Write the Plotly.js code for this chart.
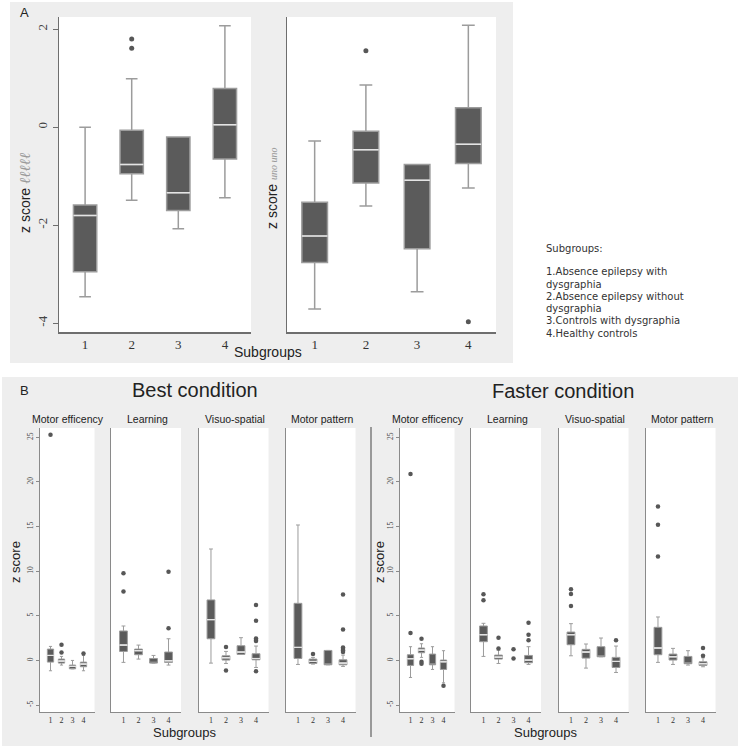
<!DOCTYPE html>
<html><head><meta charset="utf-8">
<script src="https://cdn.plot.ly/plotly-3.0.1.min.js"></script>
<style>html,body{margin:0;padding:0;background:#fff}#chart{width:738px;height:746px}</style>
</head><body><div id="chart"></div>
<script>
// ---------- DATA ----------
const groups = [1, 2, 3, 4];
const groupLabels = ['1', '2', '3', '4'];
const aTickVals = [-4, -2, 0, 2];
const aTickText = ['-4', '-2', '0', '2'];
const bTickVals = [-5, 0, 5, 10, 15, 20, 25];
const bTickText = ['-5', '0', '5', '10', '15', '20', '25'];
const conditions = ['Best condition', 'Faster condition'];
const domains = ['Motor efficency', 'Learning', 'Visuo-spatial', 'Motor pattern'];
const legendLines = ['Subgroups:', '1.Absence epilepsy with', 'dysgraphia', '2.Absence epilepsy without', 'dysgraphia', '3.Controls with dysgraphia', '4.Healthy controls'];

// Panel A, left
const aL_lo  = [-3.46, -1.49, -2.07, -1.44];
const aL_q1  = [-2.95, -0.95, -1.70, -0.65];
const aL_med = [-1.80, -0.76, -1.34, 0.05];
const aL_q3  = [-1.59, -0.06, -0.20, 0.79];
const aL_hi  = [0.00, 0.99, -0.20, 2.07];
const aL_outX = [2, 2];
const aL_outY = [1.80, 1.61];
// Panel A, right
const aR_lo  = [-3.71, -1.61, -3.36, -1.24];
const aR_q1  = [-2.76, -1.14, -2.48, -0.74];
const aR_med = [-2.22, -0.46, -1.08, -0.35];
const aR_q3  = [-1.53, -0.08, -0.76, 0.40];
const aR_hi  = [-0.28, 0.86, -0.76, 2.08];
const aR_outX = [2, 4];
const aR_outY = [1.56, -3.97];

// Panel B, best condition: motor efficiency
const bME_lo  = [-1.16, -0.52, -0.94, -1.16];
const bME_q1  = [-0.19, -0.30, -0.94, -0.71];
const bME_med = [0.56, -0.07, -0.67, -0.41];
const bME_q3  = [1.27, 0.15, -0.52, -0.19];
const bME_hi  = [1.57, 0.45, 0.00, 0.55];
const bME_outX = [1, 2, 2, 4];
const bME_outY = [25.3, 1.76, 0.90, 0.79];
// best: learning
const bLE_lo  = [-0.22, 0.15, -0.30, -0.52];
const bLE_q1  = [1.01, 0.64, -0.30, -0.22];
const bLE_med = [1.72, 1.09, -0.30, -0.04];
const bLE_q3  = [3.30, 1.27, 0.22, 0.94];
const bLE_hi  = [3.86, 1.72, 0.56, 2.43];
const bLE_outX = [1, 1, 4, 4];
const bLE_outY = [9.78, 7.72, 9.93, 3.60];
// best: visuo-spatial
const bVS_lo  = [-0.30, -0.34, 0.67, -0.79];
const bVS_q1  = [2.43, 0.04, 0.67, 0.07];
const bVS_med = [4.57, 0.30, 0.94, 0.22];
const bVS_q3  = [6.78, 0.52, 1.65, 0.75];
const bVS_hi  = [12.49, 1.01, 2.55, 1.61];
const bVS_outX = [2, 2, 4, 4, 4, 4, 4, 4];
const bVS_outY = [1.50, -1.12, 6.22, 4.46, 2.47, 2.30, 2.17, -1.20];
// best: motor pattern
const bMP_lo  = [-0.45, -0.41, -0.49, -0.67];
const bMP_q1  = [0.22, -0.34, -0.49, -0.49];
const bMP_med = [1.46, -0.11, -0.49, -0.30];
const bMP_q3  = [6.40, 0.15, 1.12, 0.07];
const bMP_hi  = [15.18, 0.34, 1.12, 0.60];
const bMP_outX = [2, 4, 4, 4, 4, 4, 4];
const bMP_outY = [0.71, 7.38, 3.48, 1.46, 1.27, 1.12, 0.94];

// Panel B, faster condition: motor efficiency
const fME_lo  = [-1.91, 0.34, -1.01, -2.51];
const fME_q1  = [-0.56, 0.86, -0.49, -1.01];
const fME_med = [0.19, 1.16, -0.49, -0.15];
const fME_q3  = [0.64, 1.39, 0.71, 0.04];
const fME_hi  = [1.54, 1.87, 1.54, 1.09];
const fME_outX = [1, 1, 2, 2, 2, 4];
const fME_outY = [20.9, 3.07, 2.43, -0.15, -0.37, -2.85];
// faster: learning (group 3 shown as points only)
const fLE_lo  = [0.45, -0.34, null, -0.45];
const fLE_q1  = [2.10, 0.15, null, -0.26];
const fLE_med = [2.88, 0.37, null, 0.04];
const fLE_q3  = [3.86, 0.60, null, 0.56];
const fLE_hi  = [4.16, 1.16, null, 1.54];
const fLE_outX = [1, 1, 2, 2, 3, 3, 4, 4, 4];
const fLE_outY = [7.42, 6.74, 2.55, 1.35, 1.24, 0.22, 4.23, 2.88, 2.25];
// faster: visuo-spatial
const fVS_lo  = [0.52, -0.86, 0.41, -1.35];
const fVS_q1  = [1.76, 0.26, 0.41, -0.79];
const fVS_med = [2.88, 0.94, 0.41, -0.11];
const fVS_q3  = [3.18, 1.24, 1.54, 0.34];
const fVS_hi  = [4.12, 1.84, 2.51, 1.61];
const fVS_outX = [1, 1, 1, 4];
const fVS_outY = [7.98, 7.45, 6.10, 2.25];
// faster: motor pattern
const fMP_lo  = [-0.22, -0.45, -0.52, -0.71];
const fMP_q1  = [0.64, 0.04, -0.37, -0.56];
const fMP_med = [1.39, 0.41, -0.37, -0.37];
const fMP_q3  = [3.71, 0.71, 0.45, -0.15];
const fMP_hi  = [4.87, 1.35, 1.09, 0.30];
const fMP_outX = [1, 1, 1, 4, 4];
const fMP_outY = [17.26, 15.2, 11.66, 1.39, 0.52];

// ---------- LAYOUT HELPERS ----------
const W = 738, H = 746;
const px = v => v / W;
const py = v => 1 - v / H;

const BOX_FILL = '#5b5b5b', BOX_LINE = '#9c9c9c', MED_LINE = '#e4e4e4', PT = '#575757';

function boxTraces(ax, lo, q1, med, q3, hi, outX, outY, bw, ms, lw) {
  const xa = ax === 1 ? 'x' : 'x' + ax, ya = ax === 1 ? 'y' : 'y' + ax;
  const idx = groups.map((g, i) => i).filter(i => q1[i] !== null);
  const pick = (arr, ids) => ids.map(i => arr[i]);
  const medIdx = idx.filter(i => med[i] !== q1[i] && med[i] !== q3[i]);
  const common = {type: 'box', xaxis: xa, yaxis: ya, hoverinfo: 'skip', showlegend: false, boxpoints: false, width: bw};
  return [
    Object.assign({}, common, {
      x: pick(groups, idx), q1: pick(q1, idx), median: pick(med, idx), q3: pick(q3, idx),
      lowerfence: pick(lo, idx), upperfence: pick(hi, idx),
      whiskerwidth: 0.5, fillcolor: BOX_FILL, line: {color: BOX_LINE, width: lw}
    }),
    Object.assign({}, common, {
      x: pick(groups, medIdx), q1: pick(med, medIdx), median: pick(med, medIdx), q3: pick(med, medIdx),
      lowerfence: pick(med, medIdx), upperfence: pick(med, medIdx),
      whiskerwidth: 0, fillcolor: 'rgba(0,0,0,0)', line: {color: MED_LINE, width: lw}
    }),
    {type: 'scatter', mode: 'markers', x: outX, y: outY, xaxis: xa, yaxis: ya, hoverinfo: 'skip', showlegend: false,
     marker: {color: PT, size: ms, line: {width: 0}}}
  ];
}

let traces = [];
traces = traces.concat(boxTraces(1, aL_lo, aL_q1, aL_med, aL_q3, aL_hi, aL_outX, aL_outY, 0.5, 5, 1.5));
traces = traces.concat(boxTraces(2, aR_lo, aR_q1, aR_med, aR_q3, aR_hi, aR_outX, aR_outY, 0.5, 5, 1.5));
traces = traces.concat(boxTraces(3, bME_lo, bME_q1, bME_med, bME_q3, bME_hi, bME_outX, bME_outY, 0.57, 4.5, 1));
traces = traces.concat(boxTraces(4, bLE_lo, bLE_q1, bLE_med, bLE_q3, bLE_hi, bLE_outX, bLE_outY, 0.52, 4.5, 1));
traces = traces.concat(boxTraces(5, bVS_lo, bVS_q1, bVS_med, bVS_q3, bVS_hi, bVS_outX, bVS_outY, 0.52, 4.5, 1));
traces = traces.concat(boxTraces(6, bMP_lo, bMP_q1, bMP_med, bMP_q3, bMP_hi, bMP_outX, bMP_outY, 0.52, 4.5, 1));
traces = traces.concat(boxTraces(7, fME_lo, fME_q1, fME_med, fME_q3, fME_hi, fME_outX, fME_outY, 0.57, 4.5, 1));
traces = traces.concat(boxTraces(8, fLE_lo, fLE_q1, fLE_med, fLE_q3, fLE_hi, fLE_outX, fLE_outY, 0.52, 4.5, 1));
traces = traces.concat(boxTraces(9, fVS_lo, fVS_q1, fVS_med, fVS_q3, fVS_hi, fVS_outX, fVS_outY, 0.52, 4.5, 1));
traces = traces.concat(boxTraces(10, fMP_lo, fMP_q1, fMP_med, fMP_q3, fMP_hi, fMP_outX, fMP_outY, 0.52, 4.5, 1));

// subplot frames in pixels
const frames = [
  {ax: 1, x0: 59, x1: 251, y0: 17, y1: 332, xr: [0.44, 4.56], yr: [-4.18, 2.25], kind: 'A', ylab: true},
  {ax: 2, x0: 287, x1: 496, y0: 17, y1: 332, xr: [0.46, 4.54], yr: [-4.18, 2.25], kind: 'A', ylab: false},
  {ax: 3, x0: 39.5, x1: 94.5, y0: 428, y1: 712, xr: [0, 5], yr: [-5.78, 26.05], kind: 'B', ylab: true},
  {ax: 4, x0: 111, x1: 181, y0: 428, y1: 712, xr: [0.17, 4.83], yr: [-5.78, 26.05], kind: 'B', ylab: false},
  {ax: 5, x0: 198.5, x1: 268.5, y0: 428, y1: 712, xr: [0.17, 4.83], yr: [-5.78, 26.05], kind: 'B', ylab: false},
  {ax: 6, x0: 285.5, x1: 355.5, y0: 428, y1: 712, xr: [0.17, 4.83], yr: [-5.78, 26.05], kind: 'B', ylab: false},
  {ax: 7, x0: 399.5, x1: 454.5, y0: 428, y1: 712, xr: [0, 5], yr: [-5.78, 26.05], kind: 'B', ylab: true},
  {ax: 8, x0: 471, x1: 541, y0: 428, y1: 712, xr: [0.17, 4.83], yr: [-5.78, 26.05], kind: 'B', ylab: false},
  {ax: 9, x0: 558.5, x1: 628.5, y0: 428, y1: 712, xr: [0.17, 4.83], yr: [-5.78, 26.05], kind: 'B', ylab: false},
  {ax: 10, x0: 645.5, x1: 715.5, y0: 428, y1: 712, xr: [0.17, 4.83], yr: [-5.78, 26.05], kind: 'B', ylab: false}
];

const layout = {
  width: W, height: H, margin: {l: 0, r: 0, t: 0, b: 0},
  paper_bgcolor: '#ffffff', plot_bgcolor: 'rgba(0,0,0,0)',
  boxmode: 'overlay', showlegend: false,
  shapes: [], annotations: []
};

// grey panel backgrounds
layout.shapes.push({type: 'rect', xref: 'paper', yref: 'paper', x0: px(10), x1: px(513), y0: py(363), y1: py(2), fillcolor: '#eeeeee', line: {width: 0}, layer: 'below'});
layout.shapes.push({type: 'rect', xref: 'paper', yref: 'paper', x0: px(2), x1: px(738), y0: py(746), y1: py(377), fillcolor: '#eeeeee', line: {width: 0}, layer: 'below'});

frames.forEach(f => {
  const sfx = f.ax === 1 ? '' : String(f.ax);
  const isA = f.kind === 'A';
  const lc = isA ? '#6e6e6e' : '#8a8a8a';
  layout.shapes.push({type: 'rect', xref: 'paper', yref: 'paper', x0: px(f.x0), x1: px(f.x1), y0: py(f.y1), y1: py(f.y0), fillcolor: '#ffffff', line: {width: 0}, layer: 'below'});
  layout['xaxis' + sfx] = {
    domain: [px(f.x0), px(f.x1)], anchor: 'y' + sfx, range: f.xr, fixedrange: true,
    tickmode: 'array', tickvals: groups, ticktext: groupLabels, ticks: '',
    showline: true, linecolor: lc, linewidth: isA ? 1.5 : 1, showgrid: false, zeroline: false,
    tickfont: {family: 'Liberation Serif, serif', size: isA ? 13 : 8, color: '#333'}
  };
  layout['yaxis' + sfx] = {
    domain: [py(f.y1), py(f.y0)], anchor: 'x' + sfx, range: f.yr, fixedrange: true,
    tickmode: 'array', tickvals: isA ? aTickVals : bTickVals, ticktext: isA ? aTickText : bTickText,
    showticklabels: f.ylab, ticks: f.ylab ? 'outside' : '', ticklen: isA ? 5 : 3, tickcolor: lc, tickangle: -90,
    showline: true, linecolor: lc, linewidth: isA ? 1.5 : 1, showgrid: false, zeroline: false,
    tickfont: {family: 'Liberation Serif, serif', size: isA ? 13 : 7.5, color: '#444'}
  };
});

// separator line between conditions
layout.shapes.push({type: 'line', xref: 'paper', yref: 'paper', x0: px(371), x1: px(371), y0: py(737), y1: py(427), line: {color: '#444', width: 1}});

function ann(text, x, y, size, opts) {
  layout.annotations.push(Object.assign({
    text: text, xref: 'paper', yref: 'paper', x: px(x), y: py(y), showarrow: false,
    xanchor: 'center', yanchor: 'middle',
    font: {family: 'Liberation Sans, Arial, sans-serif', size: size, color: '#222'}
  }, opts || {}));
}

// Panel A texts
ann('A', 25, 12, 13);
ann('Subgroups', 268, 352, 14);
ann('z score <span style="font-family:Liberation Serif;font-style:italic;color:#9a9a9a;font-size:15px">ℓℓℓℓℓ</span>', 25, 193, 14, {textangle: -90});
ann('z score <span style="font-family:Liberation Serif;font-style:italic;color:#9a9a9a;font-size:10px">uno uno</span>', 272, 188, 14, {textangle: -90});

// Legend text
const legendY = [248, 271.7, 284, 296.5, 308.7, 320.8, 333.2];
legendLines.forEach((t, i) => ann(t, 544, legendY[i], 10, {xanchor: 'left', font: {family: 'DejaVu Sans, sans-serif', size: 10, color: '#333'}}));

// Panel B texts
ann('B', 25, 390, 13);
ann(conditions[0], 195, 390, 20);
ann(conditions[1], 563, 391, 20);
const bTitleX = [67.5, 147, 235, 322, 428, 507, 595, 682];
bTitleX.forEach((x, i) => ann(domains[i % 4], x, 419, 10.5));
ann('z score', 15, 562, 13, {textangle: -90});
ann('z score', 379, 562, 13, {textangle: -90});
ann('Subgroups', 184, 732, 13);
ann('Subgroups', 545, 732, 13);

Plotly.newPlot('chart', traces, layout, {staticPlot: true, displayModeBar: false});
</script>
</body></html>
